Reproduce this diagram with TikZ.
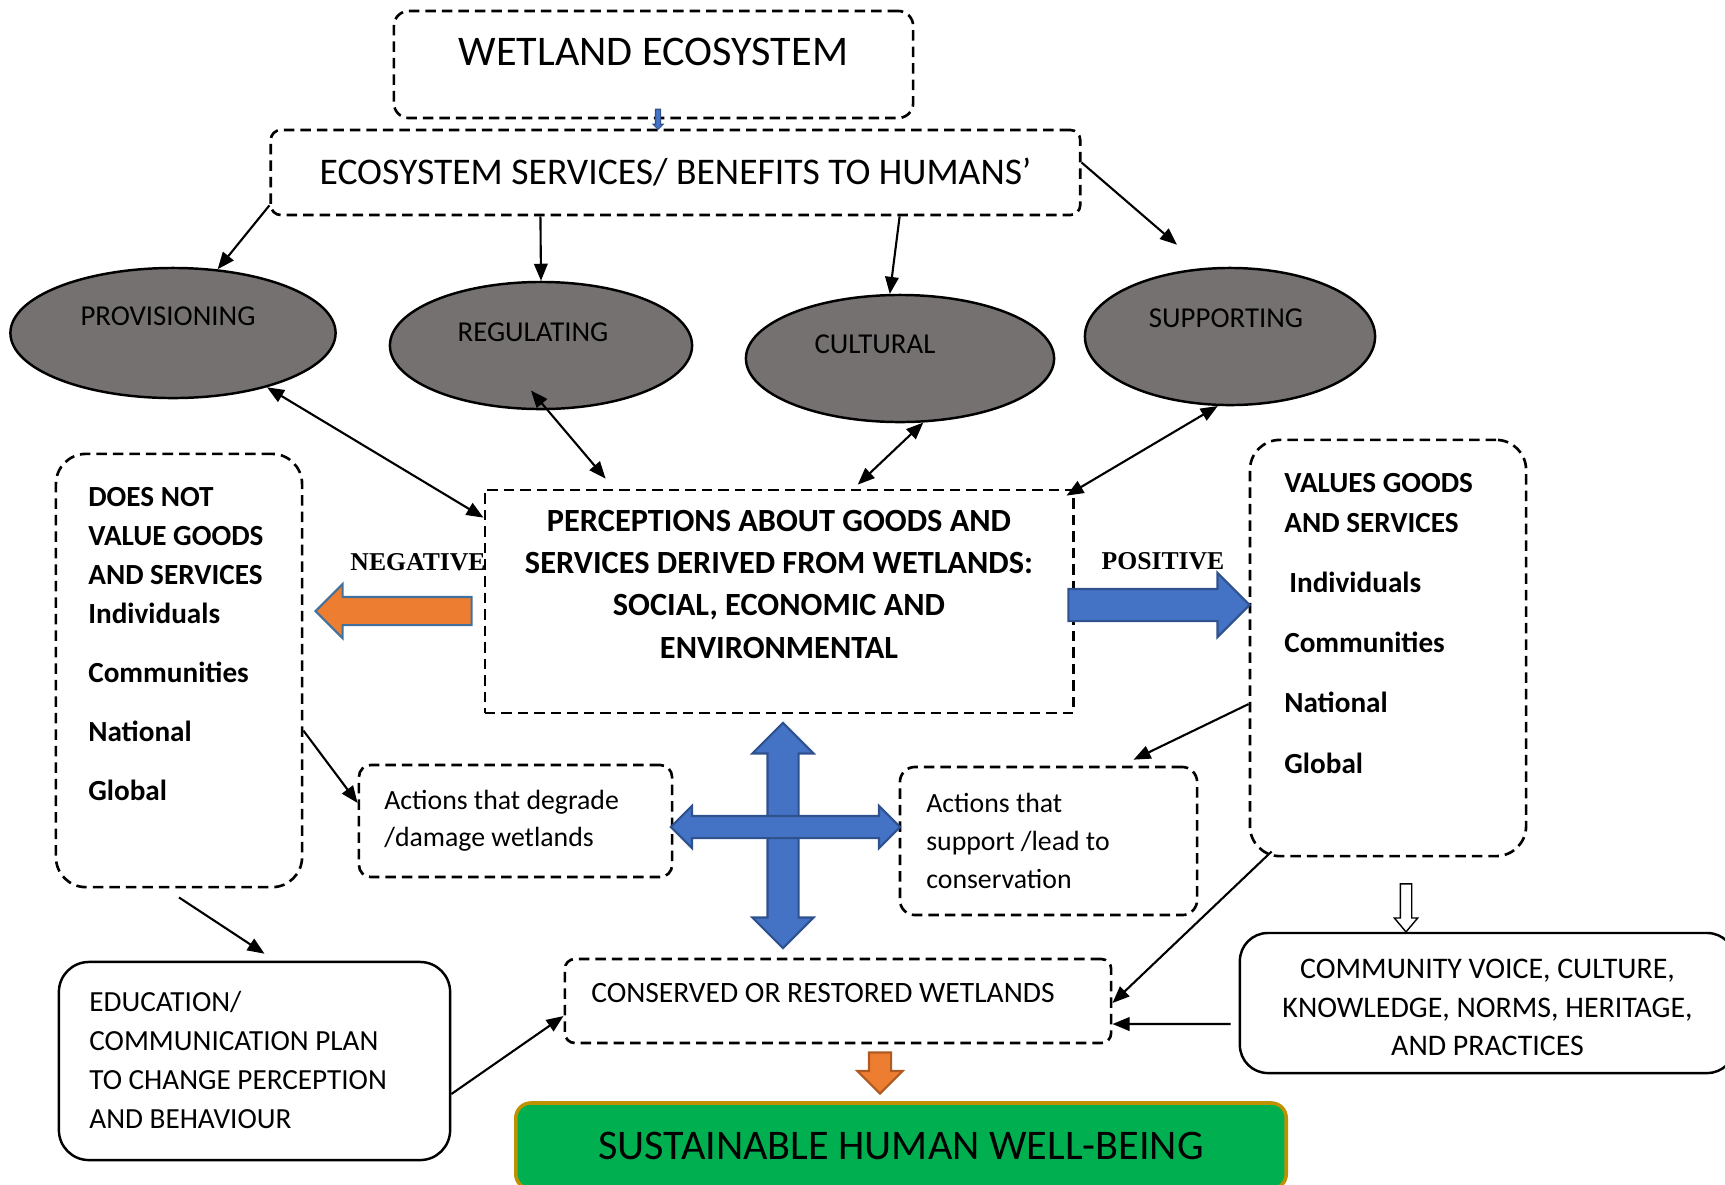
\documentclass[tikz,border=0pt]{standalone}
\usepackage{fontspec}
\setmainfont{Carlito}
\newfontfamily\seriffont{Liberation Serif}
\usetikzlibrary{arrows.meta,positioning,shapes.geometric,shapes.arrows,calc}
\definecolor{wlgray}{HTML}{767171}
\definecolor{wlblue}{HTML}{4472C4}
\definecolor{wlbluedark}{HTML}{2F528F}
\definecolor{wlslate}{HTML}{41719C}
\definecolor{wlorange}{HTML}{ED7D31}
\definecolor{wlorangedark}{HTML}{AE5A21}
\definecolor{wlgreen}{HTML}{00B050}
\definecolor{wlgold}{HTML}{BF9000}

\begin{document}
\begin{tikzpicture}[
    x=0.01cm,
    y=-0.01cm,
    dbox/.style={draw, dash pattern=on 1.05mm off 0.6mm, line width=0.75pt, fill=white, inner sep=0pt},
    sbox/.style={draw, line width=0.7pt, fill=white, inner sep=0pt},
    svc/.style={ellipse, draw, fill=wlgray, line width=0.7pt, inner sep=0pt, font=\fontsize{8.2}{10}\selectfont},
    txt/.style={inner sep=0pt, align=left},
    arr/.style={-{Triangle[length=1.7mm,width=1.35mm]}, line width=0.6pt},
    darr/.style={{Triangle[length=1.7mm,width=1.35mm]}-{Triangle[length=1.7mm,width=1.35mm]}, line width=0.6pt},
    blk/.style={single arrow, line width=0.6pt, minimum width=0pt, anchor=tip},
    dblk/.style={double arrow, line width=0.6pt, minimum width=0pt, fill=wlblue, draw=wlbluedark}
  ]
    \useasboundingbox (0,0) rectangle (1725,1184);

    \node[dbox, rounded corners=1.5mm, minimum width=5.19cm, minimum height=1.07cm, text depth=0.25cm, font=\fontsize{12}{14}\selectfont] (wetland) at (653.5,64.5) {WETLAND ECOSYSTEM};
    \node[dbox, rounded corners=1mm, minimum width=8.09cm, minimum height=0.85cm, font=\fontsize{10.7}{12}\selectfont] (services) at (675.5,172.5) {ECOSYSTEM SERVICES/ BENEFITS TO HUMANS’};
    \node[blk, fill=wlblue, draw=wlbluedark, line width=0.3pt, shape border rotate=270, minimum height=0.2cm, inner sep=0.02cm, single arrow head extend=0.025cm] (tinyarr) at (658,130) {};

    \node[svc, minimum width=3.25cm, minimum height=1.30cm, text depth=0.34cm] (prov) at (173,333) {PROVISIONING\hspace*{0.1cm}};
    \node[svc, minimum width=3.02cm, minimum height=1.27cm, text depth=0.27cm] (reg) at (541,345.5) {REGULATING\hspace*{0.16cm}};
    \node[svc, minimum width=3.08cm, minimum height=1.27cm, text depth=0.29cm] (cult) at (900,358.5) {CULTURAL\hspace*{0.5cm}};
    \node[svc, minimum width=2.90cm, minimum height=1.37cm, text depth=0.37cm] (supp) at (1230,336.5) {SUPPORTING\hspace*{0.08cm}};

    \node[inner sep=0pt, font=\fontsize{7.3}{9}\seriffont\bfseries] (neglab) at (418,562) {NEGATIVE};
    \node[inner sep=0pt, font=\fontsize{7.3}{9}\seriffont\bfseries] (poslab) at (1163,561) {POSITIVE};

    \node[dbox, minimum width=5.88cm, minimum height=2.23cm] (perc) at (779,601.5) {};
    \node[txt, align=center, font=\bfseries\fontsize{9.2}{12}\selectfont, below=0.21cm of perc.north] (perctext) {PERCEPTIONS ABOUT GOODS AND\\SERVICES DERIVED FROM WETLANDS:\\SOCIAL, ECONOMIC AND\\ENVIRONMENTAL};

    \node[dbox, rounded corners=3mm, minimum width=2.46cm, minimum height=4.33cm] (dnv) at (179,670.5) {};
    \node[txt, font=\bfseries\fontsize{8.3}{11.1}\selectfont, below right=0.34cm and 0.33cm of dnv.north west] (dnvtext) {DOES NOT\\VALUE GOODS\\AND SERVICES\\Individuals\\[5.7pt]Communities\\[5.7pt]National\\[5.7pt]Global};

    \node[dbox, rounded corners=3mm, minimum width=2.76cm, minimum height=4.16cm] (vgs) at (1388,648) {};
    \node[txt, font=\bfseries\fontsize{8.3}{11.4}\selectfont, below right=0.34cm and 0.35cm of vgs.north west] (vgstext) {VALUES GOODS\\AND SERVICES\\[5.7pt]\hspace*{0.05cm}Individuals\\[5.7pt]Communities\\[5.7pt]National\\[5.7pt]Global};

    \node[dbox, rounded corners=1.2mm, minimum width=3.13cm, minimum height=1.12cm] (degr) at (515.5,821) {};
    \node[txt, font=\fontsize{7.9}{10.5}\selectfont, below right=0.26cm and 0.26cm of degr.north west] (degrtext) {Actions that degrade\\/damage wetlands};

    \node[dbox, rounded corners=1.5mm, minimum width=2.97cm, minimum height=1.48cm] (supt) at (1048.5,841) {};
    \node[txt, font=\fontsize{7.9}{10.8}\selectfont, below right=0.27cm and 0.27cm of supt.north west] (supttext) {Actions that\\support /lead to\\conservation};

    \node[sbox, rounded corners=3mm, minimum width=3.91cm, minimum height=1.98cm] (edu) at (254.5,1061) {};
    \node[txt, font=\fontsize{8.3}{11.1}\selectfont, below right=0.30cm and 0.31cm of edu.north west] (edutext) {EDUCATION/\\COMMUNICATION PLAN\\TO CHANGE PERCEPTION\\AND BEHAVIOUR};

    \node[dbox, rounded corners=1mm, minimum width=5.46cm, minimum height=0.84cm] (cons) at (838,1001) {};
    \node[txt, font=\fontsize{8.4}{11}\selectfont, right=0.27cm of cons.west, yshift=0.08cm] (constext) {CONSERVED OR RESTORED WETLANDS};

    \node[sbox, rounded corners=2.8mm, minimum width=4.95cm, minimum height=1.40cm] (comm) at (1487.5,1003) {};
    \node[txt, align=center, font=\fontsize{8.5}{11}\selectfont, below=0.265cm of comm.north] (commtext) {COMMUNITY VOICE, CULTURE,\\KNOWLEDGE, NORMS, HERITAGE,\\AND PRACTICES};

    \node[draw=wlgold, fill=wlgreen, line width=1pt, rounded corners=1.5mm, minimum width=7.70cm, minimum height=0.86cm, font=\fontsize{12}{14}\selectfont] (wellbeing) at (901,1146) {SUSTAINABLE HUMAN WELL-BEING};

    \node[blk, fill=wlorange, draw=wlslate, shape border rotate=180, minimum height=1.56cm, inner sep=0.13cm, single arrow head extend=0.13cm] (negarr) at (314,611) {};
    \node[blk, fill=wlblue, draw=wlbluedark, minimum height=1.81cm, inner sep=0.15cm, single arrow head extend=0.16cm] (posarr) at (1251,605) {};
    \node[dblk, shape border rotate=90, minimum height=2.25cm, inner sep=0.145cm, double arrow head extend=0.15cm] (vcross) at (783,835.5) {};
    \node[dblk, minimum height=2.29cm, inner sep=0.10cm, double arrow head extend=0.10cm] (hcross) at (785.5,827) {};
    \node[blk, fill=white, draw, line width=0.4pt, shape border rotate=270, minimum height=0.48cm, inner sep=0.05cm, single arrow head extend=0.06cm, single arrow tip angle=80] (hollowarr) at (1406,933) {};
    \node[blk, fill=wlorange, draw=wlorangedark, shape border rotate=270, minimum height=0.41cm, inner sep=0.10cm, single arrow head extend=0.115cm] (downarr) at (880,1095) {};

    \draw[arr] ([yshift=.11cm]services.south west) -- (prov.55);
    \draw[arr] ([xshift=-1.35cm]services.south) -- (reg.north);
    \draw[arr] ([xshift=2.24cm]services.south) -- (cult.99);
    \draw[arr] ([yshift=.1cm]services.east) -- ([xshift=-.53cm,yshift=.22cm]supp.north);
    \draw[darr] (prov.-30) -- ([yshift=-.29cm]perc.north west);
    \draw[darr] ([xshift=-.1cm,yshift=-.45cm]reg.center) -- ([xshift=1.22cm,yshift=.1cm]perc.north west);
    \draw[darr] (cult.-70) -- ([xshift=3.74cm,yshift=.04cm]perc.north west);
    \draw[darr] (supp.-100) -- ([xshift=-.08cm,yshift=-.07cm]perc.north east);
    \draw[arr] ([yshift=-.6cm]dnv.east) -- ([yshift=.18cm]degr.west);
    \draw[arr] ([yshift=-.56cm]vgs.west) -- ([xshift=.85cm,yshift=.06cm]supt.north);
    \draw[arr] ([yshift=-.09cm]dnv.south) -- ([xshift=.1cm,yshift=.07cm]edu.north);
    \draw[arr] ([yshift=-.33cm]edu.east) -- ([yshift=-.15cm]cons.west);
    \draw[arr] ([xshift=.23cm,yshift=.06cm]vgs.south west) -- ([yshift=-.02cm]cons.east);
    \draw[arr] ([xshift=-.08cm,yshift=-.21cm]comm.west) -- ([yshift=-.23cm]cons.east);
  \end{tikzpicture}
\end{document}
